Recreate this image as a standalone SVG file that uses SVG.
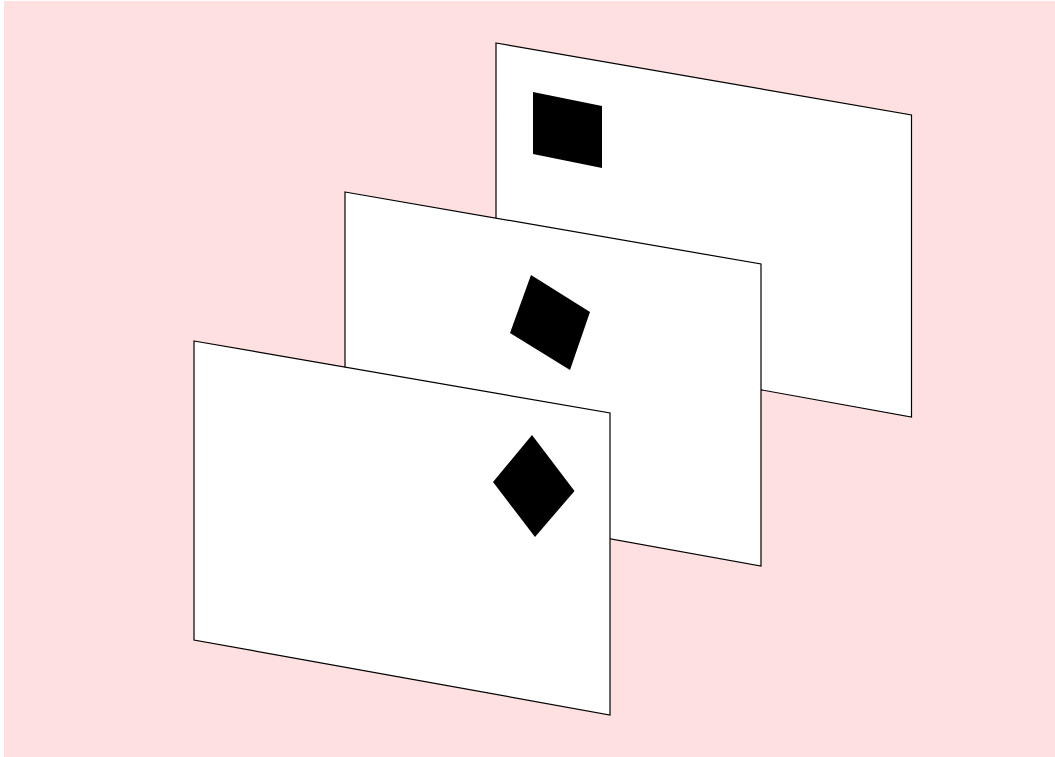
<svg xmlns="http://www.w3.org/2000/svg" width="1055" height="757" viewBox="0 0 1055 757">
<style>
.plane{fill:#ffffff;stroke:#000000;stroke-width:1.2}
.mark{fill:#000000;stroke:none}
</style>
<rect x="0" y="0" width="1055" height="757" fill="#ffffff"/>
<rect x="4" y="1" width="1051" height="756" fill="#fee0e0"/>
<g id="back">
<polygon class="plane" points="496,43 911.5,115 911.5,417 496,342"/>
<polygon class="mark" points="533,92 602,106 602,168 533,154"/>
</g>
<g id="middle">
<polygon class="plane" points="345,192 761,264 761,566 345,491"/>
<polygon class="mark" points="531,275 590,312 570,370 510,333"/>
</g>
<g id="front">
<polygon class="plane" points="194,341 610,413 610,715 194,640"/>
<polygon class="mark" points="532,435 574.5,491 535,537 493,482"/>
</g>
<g id="connectors"></g>
</svg>
